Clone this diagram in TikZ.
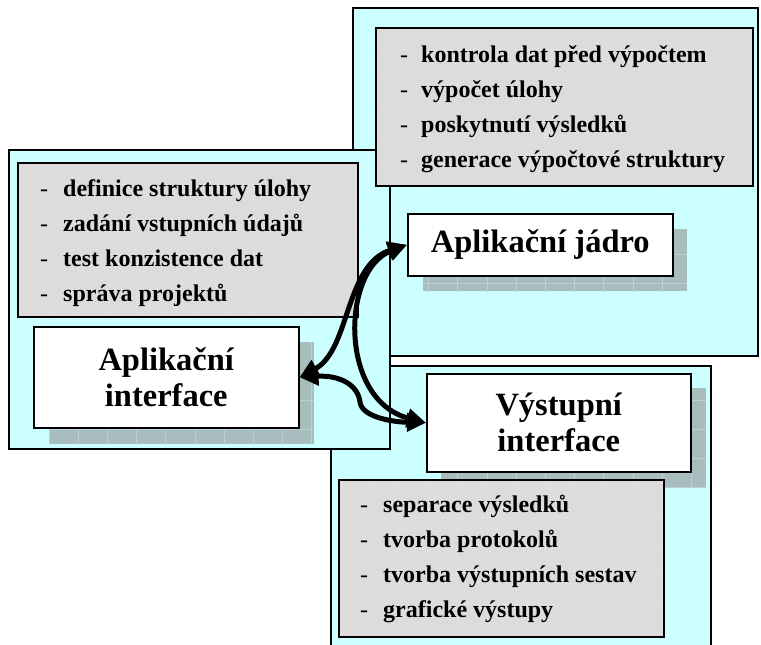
\documentclass[tikz,border=0pt]{standalone}
\usepackage{fontspec}
\setmainfont{Liberation Serif}
\usetikzlibrary{arrows.meta}
\definecolor{panelc}{HTML}{CCFFFF}
\definecolor{listc}{HTML}{DCDCDC}
\definecolor{listg}{HTML}{E4DEDE}
\definecolor{shadc}{HTML}{A8BDBD}
\definecolor{shadg}{HTML}{C0D0D0}
\newcommand{\texrect}[6]{%
  \begin{scope}
    \clip (#1,#2) rectangle (#3,#4);
    \fill[#5] (#1,#2) rectangle (#3,#4);
    \foreach \k in {0,...,26}{
      \draw[#6,line width=0.6pt] ({19.6+29.2*\k},0) -- ({19.6+29.2*\k},645);
      \draw[#6,line width=0.6pt] (0,{20.4+29.2*\k}) -- (761,{20.4+29.2*\k});
    }
  \end{scope}}
\newcommand{\itemdash}[1]{\makebox[#1][l]{\mdseries -}}
\begin{document}
\begin{tikzpicture}[x=1pt,y=-1pt,
  panelbox/.style={draw, line width=1.5pt, fill=panelc, anchor=north west, inner sep=0pt},
  listbox/.style={draw, line width=1.5pt, anchor=north west, inner sep=0pt},
  mainbox/.style={draw, line width=1.5pt, fill=white, anchor=north west, inner sep=0pt, align=center, font=\bfseries\fontsize{32.5}{36}\selectfont},
  item/.style={anchor=base west, inner sep=0pt, font=\bfseries\fontsize{24}{26}\selectfont},
  link/.style={line width=5pt, {Triangle[length=19pt,width=18pt]}-{Triangle[length=19pt,width=18pt]}}]
\useasboundingbox (0,0) rectangle (761,645);

% panel: aplikacni jadro (back)
\node[panelbox, minimum width=405pt, minimum height=348pt] (pj) at (352,7) {};

% panel: vystupni interface
\node[panelbox, minimum width=380pt, minimum height=300pt] (pv) at (330,365) {};
\texrect{441}{388}{706}{487}{shadc}{shadg}
\node[mainbox, minimum width=264pt, minimum height=98pt] (vyst) at (426,373) {Výstupní\\interface};
\texrect{338}{479}{663}{636}{listc}{listg}
\node[listbox, minimum width=325pt, minimum height=157pt] (lv) at (338,479) {};
\node[item] (v1) at (360,512) {\itemdash{23pt}separace výsledků};
\node[item] (v2) at (360,547) {\itemdash{23pt}tvorba protokolů};
\node[item] (v3) at (360,582) {\itemdash{23pt}tvorba výstupních sestav};
\node[item] (v4) at (360,617) {\itemdash{23pt}grafické výstupy};

% panel: aplikacni interface
\node[panelbox, minimum width=381pt, minimum height=299pt] (pa) at (8,149) {};
\texrect{17}{162}{357}{316}{listc}{listg}
\node[listbox, minimum width=340pt, minimum height=154pt] (la) at (17,162) {};
\node[item] (a1) at (40,196) {\itemdash{23pt}definice struktury úlohy};
\node[item] (a2) at (40,231) {\itemdash{23pt}zadání vstupních údajů};
\node[item] (a3) at (40,266) {\itemdash{23pt}test konzistence dat};
\node[item] (a4) at (40,301) {\itemdash{23pt}správa projektů};
\texrect{49}{342}{314}{444}{shadc}{shadg}
\node[mainbox, minimum width=265pt, minimum height=101pt] (iface) at (33,326) {Aplikační\\interface};

% jadro contents
\texrect{375}{27}{752}{185}{listc}{listg}
\node[listbox, minimum width=377pt, minimum height=158pt] (lj) at (375,27) {};
\node[item] (j1) at (400,62) {\itemdash{21pt}kontrola dat před výpočtem};
\node[item] (j2) at (400,97) {\itemdash{21pt}výpočet úlohy};
\node[item] (j3) at (400,132) {\itemdash{21pt}poskytnutí výsledků};
\node[item] (j4) at (400,167) {\itemdash{21pt}generace výpočtové struktury};
\texrect{423}{229}{687}{291}{shadc}{shadg}
\node[mainbox, minimum width=265pt, minimum height=62pt] (jadro) at (407,213) {Aplikační jádro};

% connectors
\draw[link] (iface.east) .. controls (350,350) and (345,265) .. (jadro.west);
\draw[link] (jadro.west) .. controls (342,270) and (338,400) .. (vyst.west);
\draw[link] (iface.east) .. controls (340,375) and (358,385) .. (360,402) .. controls (362,418) and (395,422) .. (vyst.west);
\end{tikzpicture}
\end{document}
